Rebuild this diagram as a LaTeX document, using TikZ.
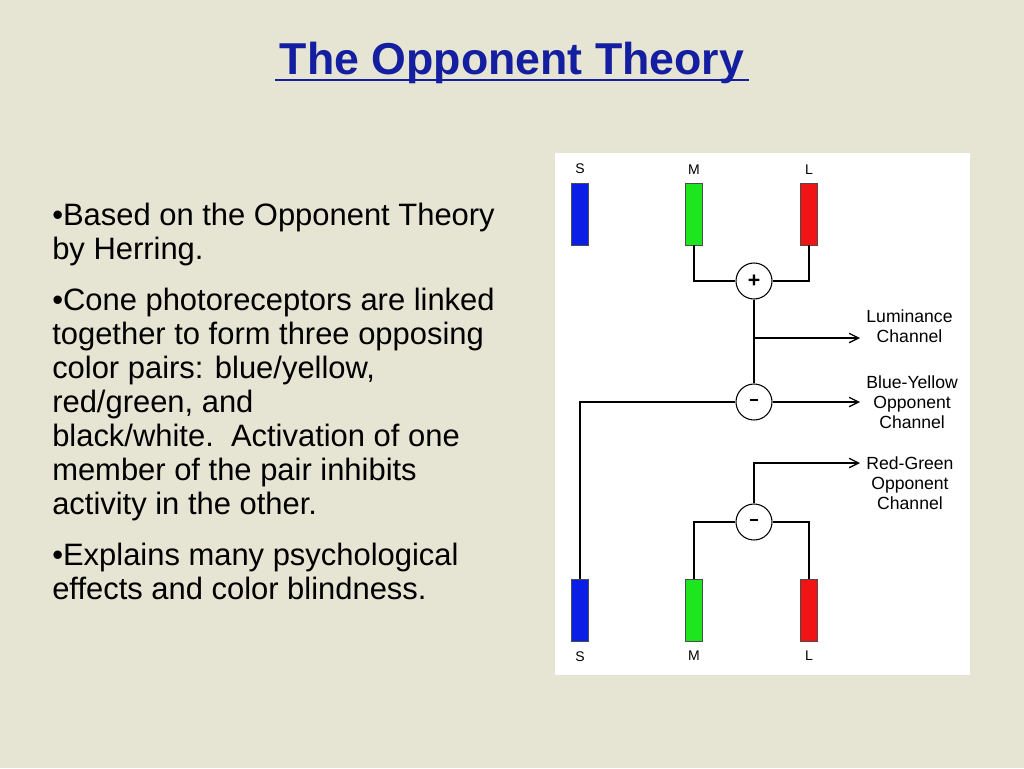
\documentclass[tikz,border=0pt]{standalone}
\usepackage{fontspec}
\setmainfont{Liberation Sans}
\usepackage{xcolor}
\usetikzlibrary{arrows.meta,positioning}
\definecolor{slidebg}{RGB}{230,228,210}
\definecolor{titleblue}{RGB}{20,30,160}
\definecolor{coneS}{RGB}{10,30,230}
\definecolor{coneM}{RGB}{30,230,30}
\definecolor{coneL}{RGB}{240,20,20}
\newcommand{\minussign}{\rule[3pt]{6pt}{2pt}}
\tikzset{
  cone/.style={draw=black!70,line width=0.4pt,minimum width=12.75pt,minimum height=46.5pt,inner sep=0pt},
  sum/.style={draw,circle,line width=0.8pt,minimum size=27pt,inner sep=0pt,font=\bfseries\fontsize{16}{16}\selectfont,fill=white},
  wire/.style={line width=1pt},
  chanarrow/.style={wire,-{Straight Barb[length=7pt,width=7pt]}},
  chan/.style={align=center,font=\fontsize{13.2}{15}\selectfont},
  lbl/.style={font=\fontsize{10.5}{10.5}\selectfont},
  bullet/.style={anchor=north west,align=left,inner sep=0pt,font=\fontsize{23.2}{25.5}\selectfont}
}
\begin{document}
\begin{tikzpicture}[x=0.75pt,y=-0.75pt]
  \fill[slidebg] (0,0) rectangle (1024,768);
  \useasboundingbox (0,0) rectangle (1024,768);
  % title
  \node[text=titleblue,font=\bfseries\fontsize{33.5}{33.5}\selectfont] (title) at (512,63) {The Opponent Theory};
  \draw[titleblue,line width=1.5pt] ([yshift=-4pt]title.base west) -- ([yshift=-4pt]title.base east);
  % bullets
  \node[bullet] (b1) at (52,203) {•Based on the Opponent Theory\\by Herring.};
  \node[bullet] (b2) at (52,288) {•Cone photoreceptors are linked\\together to form three opposing\\color pairs: blue/yellow,\\red/green, and\\black/white.\ \ Activation of one\\member of the pair inhibits\\activity in the other.};
  \node[bullet] (b3) at (52,543) {•Explains many psychological\\effects and color blindness.};
  % diagram
  \fill[white] (555,153) rectangle (970,675);
  \node[cone,fill=coneS] (s1) at (580,214) {};
  \node[cone,fill=coneM] (m1) at (694,214) {};
  \node[cone,fill=coneL] (l1) at (809,214) {};
  \node[cone,fill=coneS] (s2) at (580,610) {};
  \node[cone,fill=coneM] (m2) at (694,610) {};
  \node[cone,fill=coneL] (l2) at (809,610) {};
  \foreach \c/\t in {s1/S,m1/M,l1/L}
    \node[lbl,above=3pt of \c] {\t};
  \foreach \c/\t in {s2/S,m2/M,l2/L}
    \node[lbl,below=4pt of \c] {\t};
  \node[sum] (plus) at (754,281) {+};
  \node[sum] (by) at (754,402) {\minussign};
  \node[sum] (rg) at (754,522) {\minussign};
  \coordinate (lum) at (754,338);
  \draw[wire] (m1.south) |- (plus.west);
  \draw[wire] (l1.south) |- (plus.east);
  \draw[wire] (plus.south) -- (by.north);
  \draw[chanarrow] (lum) -- (860,338) node[chan,right=1pt,yshift=9pt] (lumtxt) {Luminance\\Channel};
  \draw[wire] (s2.north) |- (by.west);
  \draw[chanarrow] (by.east) -- (860,402) node[chan,right=1pt] (bytxt) {Blue-Yellow\\Opponent\\Channel};
  \draw[chanarrow] (rg.north) |- (860,463) node[chan,right=1pt,yshift=-15pt] (rgtxt) {Red-Green\\Opponent\\Channel};
  \draw[wire] (m2.north) |- (rg.west);
  \draw[wire] (l2.north) |- (rg.east);
\end{tikzpicture}
\end{document}
